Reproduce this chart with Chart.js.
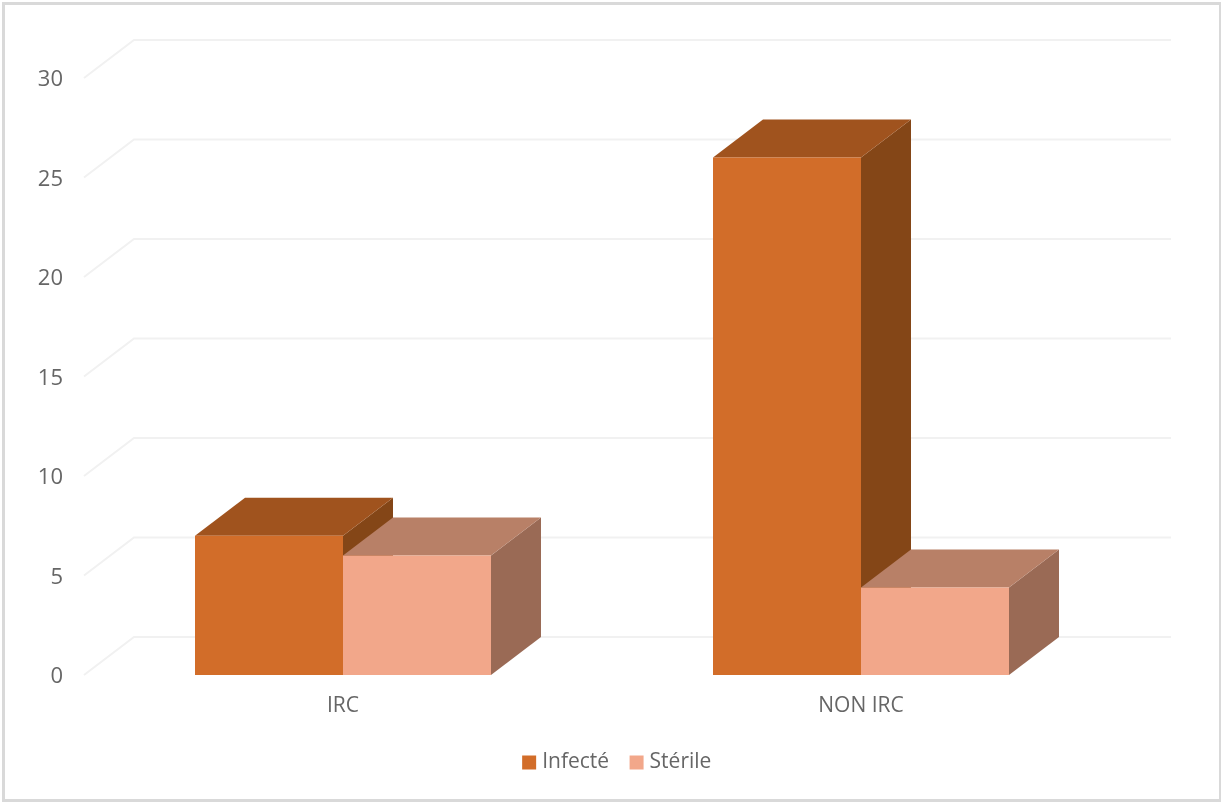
<!DOCTYPE html>
<html>
<head>
<meta charset="utf-8">
<title>Infecté / Stérile</title>
<script src="https://cdn.jsdelivr.net/npm/chart.js@4"></script>
<style>
    html, body { margin: 0; padding: 0; background: #fff; overflow: hidden; }
    #wrap { position: relative; width: 1221px; height: 803px; }
    #dailyChart { position: absolute; left: 0; top: 0; }
    #frame { position: absolute; left: 2px; top: 2px; width: 1214px; height: 794px; border: 3px solid #d9d9d9; pointer-events: none; }
</style>
</head>
<body>
<div id="wrap">
    <canvas id="dailyChart" width="1221" height="803"></canvas>
    <div id="frame"></div>
</div>
<script>
var categories = ['IRC', 'NON IRC'];
var infecte = [7, 26];
var sterile = [6, 4.4];

var frontColors = ['#D26D29', '#F2A78A'];
var topColors = ['#A0531E', '#B88067'];
var sideColors = ['#844617', '#9A6A55'];

// depth of the fake 3D box, in pixels
var depthX = 50;
var depthY = -38;

function face(ctx, points, color) {
    ctx.beginPath();
    ctx.moveTo(points[0][0], points[0][1]);
    for (var i = 1; i < points.length; i++) {
        ctx.lineTo(points[i][0], points[i][1]);
    }
    ctx.closePath();
    ctx.fillStyle = color;
    ctx.fill();
}

var box3d = {
    id: 'box3d',
    afterLayout: function(chart) {
        // legend is centred on the padded box, the reference sits further right
        chart.legend.left += 59;
        chart.legend.right += 59;
    },
    beforeDatasetsDraw: function(chart) {
        var ctx = chart.ctx;
        var yScale = chart.scales.y;
        var left = chart.chartArea.left;
        var right = chart.chartArea.right;

        // floor diagonal + back wall lines
        ctx.save();
        ctx.strokeStyle = '#f1f1f1';
        ctx.lineWidth = 2;
        yScale.ticks.forEach(function(tick) {
            var y = yScale.getPixelForValue(tick.value);
            ctx.beginPath();
            ctx.moveTo(left, y);
            ctx.lineTo(left + depthX, y + depthY);
            ctx.lineTo(right + depthX + 1, y + depthY);
            ctx.stroke();
        });

        // side and top of every bar, first series first so the second one sits over it
        chart.data.datasets.forEach(function(ds, d) {
            chart.getDatasetMeta(d).data.forEach(function(bar) {
                var x0 = bar.x - bar.width / 2;
                var x1 = bar.x + bar.width / 2;
                face(ctx, [[x1, bar.y], [x1 + depthX, bar.y + depthY], [x1 + depthX, bar.base + depthY], [x1, bar.base]], sideColors[d]);
                face(ctx, [[x0, bar.y], [x0 + depthX, bar.y + depthY], [x1 + depthX, bar.y + depthY], [x1, bar.y]], topColors[d]);
            });
        });
        ctx.restore();
    }
};

var ctx = document.getElementById('dailyChart');
var myChart = new Chart(ctx, {
    type: 'bar',
    data: {
        labels: categories,
        datasets: [
            { label: 'Infecté', data: infecte, backgroundColor: frontColors[0] },
            { label: 'Stérile', data: sterile, backgroundColor: frontColors[1] }
        ]
    },
    options: {
        responsive: false,
        animation: false,
        layout: { padding: { left: 0, right: 101, top: 78, bottom: 20 } },
        datasets: { bar: { barPercentage: 1, categoryPercentage: 0.5714 } },
        scales: {
            x: {
                grid: { display: false },
                border: { display: false },
                ticks: { color: '#666', padding: 10, font: { family: 'Open Sans', size: 21 } },
                afterFit: function(scale) { scale.height = 52; }
            },
            y: {
                min: 0,
                max: 30,
                grid: { display: false },
                border: { display: false },
                ticks: { stepSize: 5, color: '#666', padding: 13, labelOffset: 2, font: { family: 'Open Sans', size: 22 } },
                afterFit: function(scale) { scale.width = 84; }
            }
        },
        plugins: {
            tooltip: { enabled: false },
            legend: {
                position: 'bottom',
                labels: { usePointStyle: true, pointStyle: 'rect', boxWidth: 5, boxHeight: 14, padding: 25, color: '#666', font: { family: 'Open Sans', size: 21 } }
            }
        }
    },
    plugins: [box3d]
});
</script>
</body>
</html>
